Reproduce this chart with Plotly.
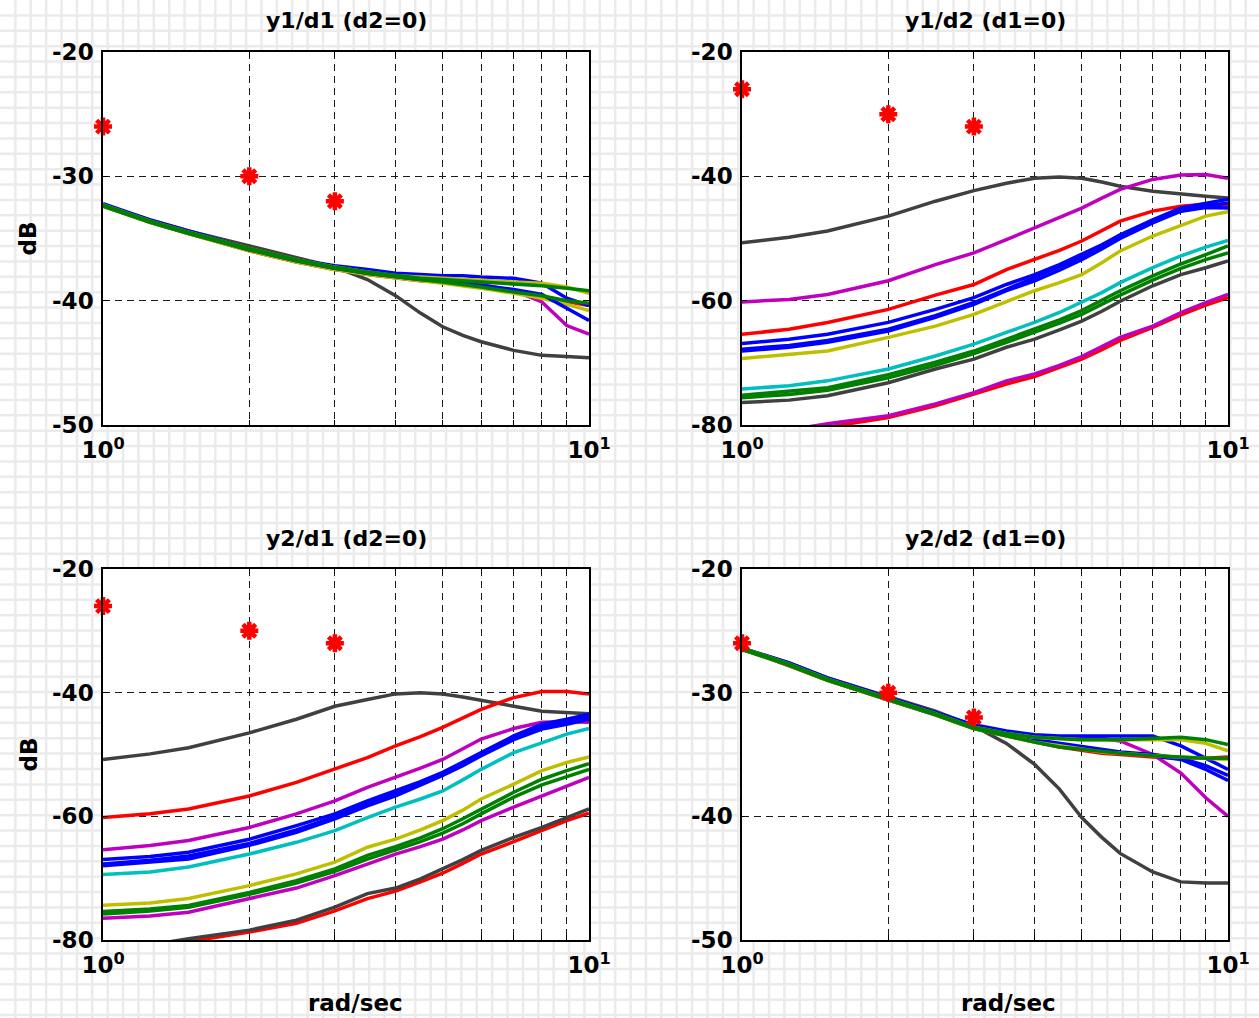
import plotly.graph_objects as go

# Frequency samples (rad/sec) shared by every response curve
FREQ = [1, 1.25, 1.5, 2, 2.5, 3, 3.5, 4, 4.5, 5, 5.5, 6, 7, 8, 9, 10]

# Specification points (red stars)
SPEC_FREQ = [1, 2, 3]
SPEC_DB = [-26, -30, -32]

# ---- y1/d1 (d2=0), dB ----
Y1D1_RED = [-32.4, -33.7, -34.6, -36.0, -36.9, -37.5, -37.9, -38.2, -38.4, -38.5, -38.7, -38.9, -39.3, -39.7, -40.1, -40.4]
Y1D1_GRAY = [-32.3, -33.5, -34.4, -35.6, -36.5, -37.3, -38.3, -39.6, -41.0, -42.1, -42.8, -43.3, -44.0, -44.4, -44.5, -44.6]
Y1D1_MAGENTA = [-32.3, -33.6, -34.5, -35.9, -36.8, -37.4, -37.8, -38.1, -38.3, -38.4, -38.5, -38.7, -39.2, -40.1, -42.0, -42.7]
Y1D1_YELLOW_B = [-32.4, -33.7, -34.6, -36.0, -36.9, -37.5, -37.9, -38.2, -38.4, -38.6, -38.8, -39.0, -39.4, -39.8, -40.3, -40.8]
Y1D1_BLUE_B = [-32.3, -33.6, -34.5, -35.9, -36.8, -37.4, -37.8, -38.1, -38.3, -38.4, -38.6, -38.8, -39.1, -39.5, -40.6, -41.6]
Y1D1_BLUE_A = [-32.2, -33.5, -34.4, -35.8, -36.7, -37.2, -37.5, -37.8, -37.9, -38.0, -38.0, -38.1, -38.2, -38.6, -39.8, -40.4]
Y1D1_YELLOW_A = [-32.3, -33.6, -34.5, -35.8, -36.7, -37.3, -37.7, -38.0, -38.1, -38.2, -38.3, -38.4, -38.5, -38.6, -38.9, -39.4]
Y1D1_GREEN_B = [-32.4, -33.7, -34.6, -35.9, -36.8, -37.4, -37.8, -38.1, -38.3, -38.5, -38.7, -38.9, -39.3, -39.6, -40.0, -40.2]
Y1D1_GREEN_A = [-32.3, -33.6, -34.5, -35.8, -36.7, -37.3, -37.7, -38.0, -38.2, -38.3, -38.4, -38.5, -38.6, -38.8, -39.0, -39.2]

# ---- y1/d2 (d1=0), dB ----
Y1D2_GRAY = [-50.7, -49.8, -48.8, -46.4, -44.0, -42.3, -41.1, -40.3, -40.1, -40.3, -40.9, -41.6, -42.4, -42.9, -43.2, -43.5]
Y1D2_MAGENTA = [-60.2, -59.8, -59.0, -56.8, -54.2, -52.3, -50.2, -48.3, -46.7, -45.1, -43.5, -42.1, -40.5, -39.8, -39.7, -40.3]
Y1D2_RED = [-65.4, -64.6, -63.5, -61.4, -59.1, -57.4, -55.0, -53.4, -51.9, -50.4, -48.7, -47.2, -45.6, -44.8, -44.5, -44.7]
Y1D2_BLUE_A = [-66.9, -66.2, -65.4, -63.5, -61.4, -59.5, -57.4, -55.8, -54.2, -52.6, -51.0, -49.4, -47.0, -45.1, -44.3, -43.7]
Y1D2_BLUE_C = [-67.8, -67.2, -66.4, -64.6, -62.4, -60.3, -58.2, -56.3, -54.6, -53.0, -51.3, -49.6, -47.1, -45.6, -45.0, -45.1]
Y1D2_BLUE_B = [-68.1, -67.5, -66.7, -64.9, -62.7, -60.6, -58.4, -56.8, -55.1, -53.4, -51.7, -50.0, -47.5, -45.6, -44.8, -44.3]
Y1D2_YELLOW = [-69.3, -68.7, -68.1, -65.9, -64.1, -62.2, -60.1, -58.4, -57.1, -55.8, -53.9, -52.0, -49.6, -47.9, -46.4, -45.7]
Y1D2_CYAN = [-74.2, -73.7, -72.9, -71.0, -68.9, -67.0, -65.1, -63.5, -61.9, -60.3, -58.7, -57.1, -54.7, -52.8, -51.4, -50.3]
Y1D2_GREEN_A = [-75.2, -74.6, -74.0, -71.9, -69.9, -68.1, -66.2, -64.6, -63.1, -61.6, -60.0, -58.4, -56.0, -54.1, -52.6, -51.2]
Y1D2_GREEN_B = [-75.6, -75.1, -74.4, -72.4, -70.4, -68.5, -66.7, -65.1, -63.6, -62.2, -60.6, -59.1, -56.7, -54.8, -53.4, -52.3]
Y1D2_GRAY_LOW = [-76.4, -76.0, -75.3, -73.2, -71.0, -69.4, -67.5, -66.2, -64.7, -63.3, -61.7, -60.1, -57.6, -55.8, -54.7, -53.6]
Y1D2_RED_LOW = [-82.5, -81.3, -80.3, -78.8, -76.9, -75.0, -73.4, -72.2, -70.8, -69.4, -67.9, -66.4, -64.3, -62.3, -60.7, -59.5]
Y1D2_MAGENTA_LOW = [-81.8, -80.8, -79.8, -78.5, -76.6, -74.8, -72.9, -71.8, -70.4, -69.0, -67.4, -65.9, -64.1, -61.9, -60.3, -59.0]

# ---- y2/d1 (d2=0), dB ----
Y2D1_GRAY = [-50.8, -49.9, -48.9, -46.5, -44.3, -42.2, -41.1, -40.2, -40.0, -40.2, -40.7, -41.2, -42.2, -43.0, -43.2, -43.4]
Y2D1_RED = [-60.2, -59.6, -58.8, -56.7, -54.5, -52.4, -50.5, -48.6, -47.1, -45.6, -44.1, -42.7, -40.8, -39.8, -39.8, -40.2]
Y2D1_MAGENTA = [-65.4, -64.7, -63.9, -61.8, -59.6, -57.5, -55.3, -53.7, -52.2, -50.8, -49.1, -47.5, -45.8, -44.8, -44.7, -44.8]
Y2D1_BLUE_A = [-67.0, -66.5, -65.8, -63.7, -61.5, -59.6, -57.5, -55.9, -54.4, -52.9, -51.3, -49.7, -47.0, -45.1, -44.3, -43.5]
Y2D1_BLUE_C = [-67.7, -67.1, -66.4, -64.4, -62.2, -60.1, -58.0, -56.3, -54.7, -53.2, -51.5, -49.9, -47.4, -45.5, -44.7, -43.9]
Y2D1_BLUE_B = [-68.0, -67.4, -66.9, -64.7, -62.6, -60.4, -58.3, -56.7, -55.0, -53.4, -51.8, -50.2, -47.6, -45.9, -45.1, -44.3]
Y2D1_CYAN = [-69.4, -69.0, -68.2, -66.1, -64.2, -62.3, -60.2, -58.5, -57.2, -55.9, -54.1, -52.4, -49.7, -48.1, -46.7, -45.8]
Y2D1_YELLOW = [-74.4, -74.0, -73.3, -71.2, -69.3, -67.4, -65.0, -63.7, -62.2, -60.7, -59.0, -57.2, -54.8, -52.6, -51.3, -50.4]
Y2D1_GREEN_A = [-75.4, -75.0, -74.4, -72.3, -70.4, -68.5, -66.3, -64.9, -63.5, -62.0, -60.4, -58.8, -56.1, -54.0, -52.6, -51.5]
Y2D1_GREEN_B = [-75.8, -75.3, -74.7, -72.6, -70.8, -68.9, -66.9, -65.4, -64.1, -62.7, -61.2, -59.6, -56.9, -54.9, -53.6, -52.4]
Y2D1_MAGENTA_LOW = [-76.5, -76.1, -75.5, -73.3, -71.6, -69.6, -67.7, -66.1, -64.9, -63.7, -62.2, -60.7, -58.5, -56.7, -55.1, -53.7]
Y2D1_RED_LOW = [-82.5, -81.3, -80.3, -78.7, -77.3, -75.3, -73.3, -72.1, -70.6, -69.2, -67.6, -66.1, -64.1, -62.3, -60.7, -59.5]
Y2D1_GRAY_LOW = [-81.8, -80.8, -79.8, -78.4, -76.8, -74.7, -72.5, -71.6, -70.1, -68.5, -67.0, -65.5, -63.4, -61.8, -60.2, -58.8]

# ---- y2/d2 (d1=0), dB ----
Y2D2_GRAY = [-26.4, -27.6, -28.8, -30.3, -31.5, -32.7, -34.1, -35.8, -37.8, -40.1, -41.7, -43.0, -44.5, -45.3, -45.4, -45.4]
Y2D2_RED = [-26.4, -27.8, -29.0, -30.6, -31.8, -32.9, -33.5, -34.0, -34.4, -34.7, -34.9, -35.0, -35.2, -35.3, -35.3, -35.2]
Y2D2_MAGENTA = [-26.4, -27.7, -28.9, -30.5, -31.7, -32.7, -33.2, -33.5, -33.6, -33.6, -33.7, -33.9, -35.0, -36.5, -38.5, -40.0]
Y2D2_BLUE_C = [-26.5, -27.7, -28.9, -30.5, -31.7, -32.8, -33.4, -33.9, -34.2, -34.5, -34.7, -34.9, -35.1, -35.4, -36.2, -37.1]
Y2D2_BLUE_B = [-26.5, -27.7, -28.9, -30.5, -31.7, -32.8, -33.4, -33.8, -34.1, -34.4, -34.6, -34.8, -35.0, -35.3, -35.9, -36.7]
Y2D2_BLUE_A = [-26.4, -27.6, -28.8, -30.4, -31.6, -32.6, -33.1, -33.4, -33.5, -33.5, -33.5, -33.5, -33.5, -34.3, -35.3, -36.2]
Y2D2_YELLOW_B = [-26.5, -27.8, -29.0, -30.6, -31.8, -32.9, -33.5, -34.0, -34.3, -34.6, -34.8, -34.9, -35.1, -35.2, -35.3, -35.4]
Y2D2_YELLOW_A = [-26.4, -27.7, -28.9, -30.5, -31.7, -32.8, -33.3, -33.6, -33.7, -33.8, -33.8, -33.8, -33.8, -33.8, -34.1, -34.7]
Y2D2_GREEN_B = [-26.5, -27.8, -29.0, -30.6, -31.8, -32.9, -33.5, -34.0, -34.4, -34.6, -34.8, -34.9, -35.1, -35.2, -35.3, -35.3]
Y2D2_GREEN_A = [-26.4, -27.7, -28.9, -30.5, -31.7, -32.8, -33.3, -33.6, -33.7, -33.8, -33.8, -33.8, -33.7, -33.6, -33.8, -34.2]

# Axis tick labels
X_TICKS = [1, 2, 3, 4, 5, 6, 7, 8, 9, 10]
X_TICKTEXT = ["10<sup>0</sup>", "", "", "", "", "", "", "", "", "10<sup>1</sup>"]
Y_TICKS_FINE = [-50, -40, -30, -20]
Y_TICKS_WIDE = [-80, -60, -40, -20]

PANEL_TITLES = ["y1/d1 (d2=0)", "y1/d2 (d1=0)", "y2/d1 (d2=0)", "y2/d2 (d1=0)"]

# MATLAB-style line colours
RED = "#ff0000"
BLUE = "#0000ff"
GREEN = "#008000"
CYAN = "#00bfbf"
MAGENTA = "#bf00bf"
YELLOW = "#bfbf00"
GRAY = "#404040"

W, H = 1259, 1018
FONT = "DejaVu Sans"

# Axis boxes in pixels: (left, right, top, bottom)
BOXES = [(103, 589, 52, 425), (742, 1228, 52, 425),
         (103, 589, 569, 940), (742, 1228, 569, 940)]

panels = [
    dict(curves=[(Y1D1_RED, RED), (Y1D1_GRAY, GRAY), (Y1D1_MAGENTA, MAGENTA),
                 (Y1D1_YELLOW_B, YELLOW), (Y1D1_BLUE_B, BLUE), (Y1D1_BLUE_A, BLUE),
                 (Y1D1_YELLOW_A, YELLOW), (Y1D1_GREEN_B, GREEN), (Y1D1_GREEN_A, GREEN)],
         yrange=[-50, -20], yticks=Y_TICKS_FINE),
    dict(curves=[(Y1D2_GRAY, GRAY), (Y1D2_MAGENTA, MAGENTA), (Y1D2_RED, RED),
                 (Y1D2_BLUE_A, BLUE), (Y1D2_BLUE_C, BLUE), (Y1D2_BLUE_B, BLUE),
                 (Y1D2_YELLOW, YELLOW), (Y1D2_CYAN, CYAN), (Y1D2_GREEN_A, GREEN),
                 (Y1D2_GREEN_B, GREEN), (Y1D2_GRAY_LOW, GRAY), (Y1D2_RED_LOW, RED),
                 (Y1D2_MAGENTA_LOW, MAGENTA)],
         yrange=[-80, -20], yticks=Y_TICKS_WIDE),
    dict(curves=[(Y2D1_GRAY, GRAY), (Y2D1_RED, RED), (Y2D1_MAGENTA, MAGENTA),
                 (Y2D1_BLUE_A, BLUE), (Y2D1_BLUE_C, BLUE), (Y2D1_BLUE_B, BLUE),
                 (Y2D1_CYAN, CYAN), (Y2D1_YELLOW, YELLOW), (Y2D1_GREEN_A, GREEN),
                 (Y2D1_GREEN_B, GREEN), (Y2D1_MAGENTA_LOW, MAGENTA), (Y2D1_RED_LOW, RED),
                 (Y2D1_GRAY_LOW, GRAY)],
         yrange=[-80, -20], yticks=Y_TICKS_WIDE),
    dict(curves=[(Y2D2_GRAY, GRAY), (Y2D2_RED, RED), (Y2D2_MAGENTA, MAGENTA),
                 (Y2D2_BLUE_C, BLUE), (Y2D2_BLUE_B, BLUE), (Y2D2_BLUE_A, BLUE),
                 (Y2D2_YELLOW_B, YELLOW), (Y2D2_YELLOW_A, YELLOW), (Y2D2_GREEN_B, GREEN),
                 (Y2D2_GREEN_A, GREEN)],
         yrange=[-50, -20], yticks=Y_TICKS_FINE),
]

fig = go.Figure()
layout = dict(
    width=W, height=H,
    margin=dict(l=0, r=0, t=0, b=0, pad=0, autoexpand=False),
    paper_bgcolor="white", plot_bgcolor="white",
    showlegend=False,
    annotations=[], shapes=[],
)

# Light graph-paper pattern behind the whole figure
step = 15.38
path = []
k = 1
while k * step < W:
    xp = k * step / W
    path.append(f"M{xp:.5f},0 L{xp:.5f},1")
    k += 1
k = 1
while k * step < H:
    yp = 1 - k * step / H
    path.append(f"M0,{yp:.5f} L1,{yp:.5f}")
    k += 1
layout["shapes"].append(dict(type="path", path=" ".join(path), xref="paper", yref="paper",
                             line=dict(color="#ebebeb", width=2.5), layer="below"))

tick_font = dict(family=FONT, size=23, color="black", weight="bold")

for i, p in enumerate(panels):
    n = i + 1
    xname = "xaxis" if n == 1 else f"xaxis{n}"
    yname = "yaxis" if n == 1 else f"yaxis{n}"
    xref = "x" if n == 1 else f"x{n}"
    yref = "y" if n == 1 else f"y{n}"
    left, right, top, bottom = BOXES[i]
    xdom = [left / W, right / W]
    ydom = [1 - bottom / H, 1 - top / H]

    # white plotting area over the paper pattern
    layout["shapes"].append(dict(type="rect", xref="paper", yref="paper",
                                 x0=xdom[0], x1=xdom[1], y0=ydom[0], y1=ydom[1],
                                 fillcolor="white", line=dict(width=0), layer="below"))

    layout[xname] = dict(
        domain=xdom, anchor=yref, type="log", range=[0, 1], automargin=False,
        tickmode="array", tickvals=X_TICKS, ticktext=X_TICKTEXT,
        tickfont=tick_font, ticklabelstandoff=4,
        showgrid=True, gridcolor="#1a1a1a", gridwidth=1, griddash="7px,5px",
        showline=True, linecolor="black", linewidth=1.5, mirror="all",
        ticks="inside", ticklen=5, tickcolor="black", tickwidth=1,
        zeroline=False, fixedrange=True,
    )
    layout[yname] = dict(
        domain=ydom, anchor=xref, range=p["yrange"], automargin=False,
        tickmode="array", tickvals=p["yticks"], ticktext=[str(v) for v in p["yticks"]],
        tickfont=tick_font, ticklabelstandoff=3,
        showgrid=True, gridcolor="#1a1a1a", gridwidth=1, griddash="7px,5px",
        showline=True, linecolor="black", linewidth=1.5, mirror="all",
        ticks="inside", ticklen=5, tickcolor="black", tickwidth=1,
        zeroline=False, fixedrange=True,
    )

    for values, color in p["curves"]:
        fig.add_trace(go.Scatter(x=FREQ, y=values, mode="lines", xaxis=xref, yaxis=yref,
                                 line=dict(color=color, width=3.5), hoverinfo="skip"))
    fig.add_trace(go.Scatter(x=SPEC_FREQ, y=SPEC_DB, mode="markers", xaxis=xref, yaxis=yref,
                             marker=dict(symbol="asterisk-open", size=15, color=RED,
                                         line=dict(color=RED, width=4.5)),
                             cliponaxis=False, hoverinfo="skip"))

    # panel title
    layout["annotations"].append(dict(
        text=PANEL_TITLES[i], xref="paper", yref="paper",
        x=(xdom[0] + xdom[1]) / 2, y=1 - (top - 31) / H,
        xanchor="center", yanchor="middle", showarrow=False,
        font=dict(family=FONT, size=22, color="black", weight="bold")))

# axis labels
label_font = dict(family=FONT, size=23, color="black", weight="bold")
for top, bottom in [(52, 425), (569, 940)]:
    layout["annotations"].append(dict(
        text="dB", xref="paper", yref="paper", x=28 / W, y=1 - (top + bottom) / 2 / H,
        xanchor="center", yanchor="middle", textangle=-90, showarrow=False, font=label_font))
for cx in [355, 1008]:
    layout["annotations"].append(dict(
        text="rad/sec", xref="paper", yref="paper", x=cx / W, y=1 - 1003 / H,
        xanchor="center", yanchor="middle", showarrow=False, font=label_font))

fig.update_layout(**layout)
fig.write_html("out.html", config={"displayModeBar": False})
